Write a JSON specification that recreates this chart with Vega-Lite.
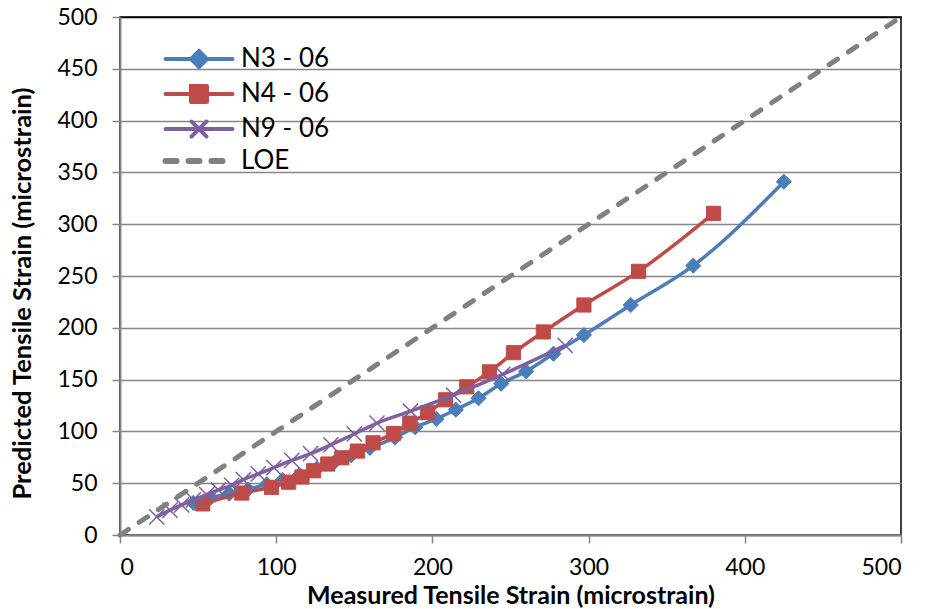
{
  "$schema": "https://vega.github.io/schema/vega-lite/v6.json",
  "width": 781,
  "height": 518,
  "autosize": {"type": "none"},
  "padding": {"left": 120, "top": 17, "right": 25, "bottom": 74},
  "background": "white",
  "config": {
    "font": "Lato",
    "view": {"stroke": "#000000", "strokeWidth": 1.5},
    "axis": {
      "labelFont": "Lato",
      "labelFontSize": 23,
      "labelColor": "#000000",
      "titleFont": "Lato",
      "titleFontSize": 25,
      "titleFontWeight": "bold",
      "titleColor": "#000000",
      "domainColor": "#868686",
      "domainWidth": 2,
      "tickColor": "#868686",
      "tickWidth": 1.5,
      "tickSize": 8
    }
  },
  "datasets": {
    "strain": [
      {"series": "LOE", "measured": 0, "predicted": 0},
      {"series": "LOE", "measured": 500, "predicted": 500},

      {"series": "N3 - 06", "measured": 47, "predicted": 31},
      {"series": "N3 - 06", "measured": 58, "predicted": 36},
      {"series": "N3 - 06", "measured": 70, "predicted": 40},
      {"series": "N3 - 06", "measured": 82, "predicted": 44},
      {"series": "N3 - 06", "measured": 94, "predicted": 49},
      {"series": "N3 - 06", "measured": 104, "predicted": 53},
      {"series": "N3 - 06", "measured": 115, "predicted": 58},
      {"series": "N3 - 06", "measured": 126, "predicted": 64},
      {"series": "N3 - 06", "measured": 137, "predicted": 70},
      {"series": "N3 - 06", "measured": 148, "predicted": 77},
      {"series": "N3 - 06", "measured": 160, "predicted": 84},
      {"series": "N3 - 06", "measured": 176, "predicted": 94},
      {"series": "N3 - 06", "measured": 189, "predicted": 104},
      {"series": "N3 - 06", "measured": 202.5, "predicted": 112},
      {"series": "N3 - 06", "measured": 215, "predicted": 121},
      {"series": "N3 - 06", "measured": 229.5, "predicted": 132},
      {"series": "N3 - 06", "measured": 244, "predicted": 146},
      {"series": "N3 - 06", "measured": 260, "predicted": 158},
      {"series": "N3 - 06", "measured": 277.5, "predicted": 175},
      {"series": "N3 - 06", "measured": 297, "predicted": 193},
      {"series": "N3 - 06", "measured": 327, "predicted": 222},
      {"series": "N3 - 06", "measured": 367, "predicted": 260},
      {"series": "N3 - 06", "measured": 425, "predicted": 341},

      {"series": "N4 - 06", "measured": 53, "predicted": 30},
      {"series": "N4 - 06", "measured": 78, "predicted": 40.5},
      {"series": "N4 - 06", "measured": 97, "predicted": 46},
      {"series": "N4 - 06", "measured": 108, "predicted": 51},
      {"series": "N4 - 06", "measured": 116.5, "predicted": 56},
      {"series": "N4 - 06", "measured": 124, "predicted": 62},
      {"series": "N4 - 06", "measured": 133, "predicted": 68.5},
      {"series": "N4 - 06", "measured": 142, "predicted": 74.5},
      {"series": "N4 - 06", "measured": 152, "predicted": 81},
      {"series": "N4 - 06", "measured": 162, "predicted": 89},
      {"series": "N4 - 06", "measured": 175, "predicted": 98},
      {"series": "N4 - 06", "measured": 185.5, "predicted": 108},
      {"series": "N4 - 06", "measured": 197, "predicted": 118},
      {"series": "N4 - 06", "measured": 208.5, "predicted": 130.5},
      {"series": "N4 - 06", "measured": 222, "predicted": 143},
      {"series": "N4 - 06", "measured": 236.5, "predicted": 157.5},
      {"series": "N4 - 06", "measured": 252, "predicted": 176},
      {"series": "N4 - 06", "measured": 271, "predicted": 196},
      {"series": "N4 - 06", "measured": 297, "predicted": 222},
      {"series": "N4 - 06", "measured": 332, "predicted": 254.5},
      {"series": "N4 - 06", "measured": 380, "predicted": 310.5},

      {"series": "N9 - 06", "measured": 23.5, "predicted": 17.5},
      {"series": "N9 - 06", "measured": 32, "predicted": 24},
      {"series": "N9 - 06", "measured": 39.5, "predicted": 29},
      {"series": "N9 - 06", "measured": 47, "predicted": 34},
      {"series": "N9 - 06", "measured": 55.5, "predicted": 39},
      {"series": "N9 - 06", "measured": 63, "predicted": 43.5},
      {"series": "N9 - 06", "measured": 71.5, "predicted": 48},
      {"series": "N9 - 06", "measured": 79, "predicted": 53.5},
      {"series": "N9 - 06", "measured": 88.5, "predicted": 59},
      {"series": "N9 - 06", "measured": 98.5, "predicted": 65},
      {"series": "N9 - 06", "measured": 110, "predicted": 72},
      {"series": "N9 - 06", "measured": 122, "predicted": 78.5},
      {"series": "N9 - 06", "measured": 135, "predicted": 87},
      {"series": "N9 - 06", "measured": 150, "predicted": 97.5},
      {"series": "N9 - 06", "measured": 164.5, "predicted": 108},
      {"series": "N9 - 06", "measured": 186, "predicted": 119.5},
      {"series": "N9 - 06", "measured": 213.5, "predicted": 135},
      {"series": "N9 - 06", "measured": 245, "predicted": 155},
      {"series": "N9 - 06", "measured": 285, "predicted": 183}
    ]
  },
  "data": {"name": "strain"},
  "encoding": {
    "x": {
      "field": "measured",
      "type": "quantitative",
      "scale": {"domain": [0, 500], "nice": false, "zero": true},
      "axis": {
        "title": "Measured Tensile Strain (microstrain)",
        "values": [0, 100, 200, 300, 400, 500],
        "grid": false,
        "labelPadding": 13,
        "titlePadding": 4
      }
    },
    "y": {
      "field": "predicted",
      "type": "quantitative",
      "scale": {"domain": [0, 500], "nice": false, "zero": true},
      "axis": {
        "title": "Predicted Tensile Strain (microstrain)",
        "titleFontSize": 25.5,
        "titleY": 276,
        "values": [0, 50, 100, 150, 200, 250, 300, 350, 400, 450, 500],
        "grid": true,
        "gridColor": {"condition": {"test": "datum.value === 500", "value": "#000000"}, "value": "#868686"},
        "gridWidth": 1.5,
        "labelPadding": 15,
        "titlePadding": 21
      }
    },
    "color": {
      "field": "series",
      "type": "nominal",
      "scale": {
        "domain": ["N3 - 06", "N4 - 06", "N9 - 06", "LOE"],
        "range": ["#4A7EBB", "#BE4B48", "#7D60A0", "#808080"]
      },
      "legend": {
        "title": null,
        "orient": "none",
        "legendX": 45,
        "legendY": 29,
        "padding": 0,
        "symbolSize": 400,
        "symbolOffset": 21,
        "labelOffset": 29,
        "labelFont": "Lato",
        "labelFontSize": 26,
        "labelColor": "#000000",
        "rowPadding": 3,
        "encode": {
          "symbols": {
            "update": {
              "shape": {"signal": "datum.value === 'N3 - 06' ? 'M-3.35,0L3.35,0M0,-0.8L0.8,0L0,0.8L-0.8,0Z' : datum.value === 'N4 - 06' ? 'M-3.35,0L3.35,0M-0.8,-0.8L0.8,-0.8L0.8,0.8L-0.8,0.8Z' : datum.value === 'N9 - 06' ? 'M-3.35,0L3.35,0M-0.75,-0.75L0.75,0.75M-0.75,0.75L0.75,-0.75' : 'M-3.35,0L3.35,0'"},
              "fill": {"signal": "datum.value === 'N3 - 06' || datum.value === 'N4 - 06' ? scale('color', datum.value) : 'transparent'"},
              "stroke": {"signal": "scale('color', datum.value)"},
              "strokeWidth": {"signal": "datum.value === 'LOE' ? 6 : 4"},
              "strokeDash": {"signal": "datum.value === 'LOE' ? [11, 12] : [1, 0]"},
              "strokeCap": {"value": "round"},
              "opacity": {"value": 1}
            }
          }
        }
      }
    }
  },
  "layer": [
    {
      "transform": [{"filter": "datum.series === 'N3 - 06'"}],
      "mark": {"type": "line", "strokeWidth": 3.5, "interpolate": "monotone"}
    },
    {
      "transform": [{"filter": "datum.series === 'N3 - 06'"}],
      "mark": {"type": "point", "shape": "diamond", "size": 230, "filled": true, "opacity": 1, "stroke": "#4A7EBB", "strokeWidth": 1}
    },
    {
      "transform": [{"filter": "datum.series === 'N4 - 06'"}],
      "mark": {"type": "line", "strokeWidth": 3.5, "interpolate": "monotone"}
    },
    {
      "transform": [{"filter": "datum.series === 'N4 - 06'"}],
      "mark": {"type": "point", "shape": "square", "size": 200, "filled": true, "opacity": 1, "stroke": "#BE4B48", "strokeWidth": 1}
    },
    {
      "transform": [{"filter": "datum.series === 'N9 - 06'"}],
      "mark": {"type": "line", "strokeWidth": 3.5, "interpolate": "monotone"}
    },
    {
      "transform": [{"filter": "datum.series === 'N9 - 06'"}],
      "mark": {"type": "point", "shape": "M-1,-1L1,1M-1,1L1,-1", "size": 230, "filled": false, "opacity": 1, "strokeWidth": 1.5}
    },
    {
      "transform": [{"filter": "datum.series === 'LOE'"}],
      "mark": {"type": "line", "strokeWidth": 5, "strokeDash": [10, 13], "strokeCap": "round"}
    }
  ]
}
